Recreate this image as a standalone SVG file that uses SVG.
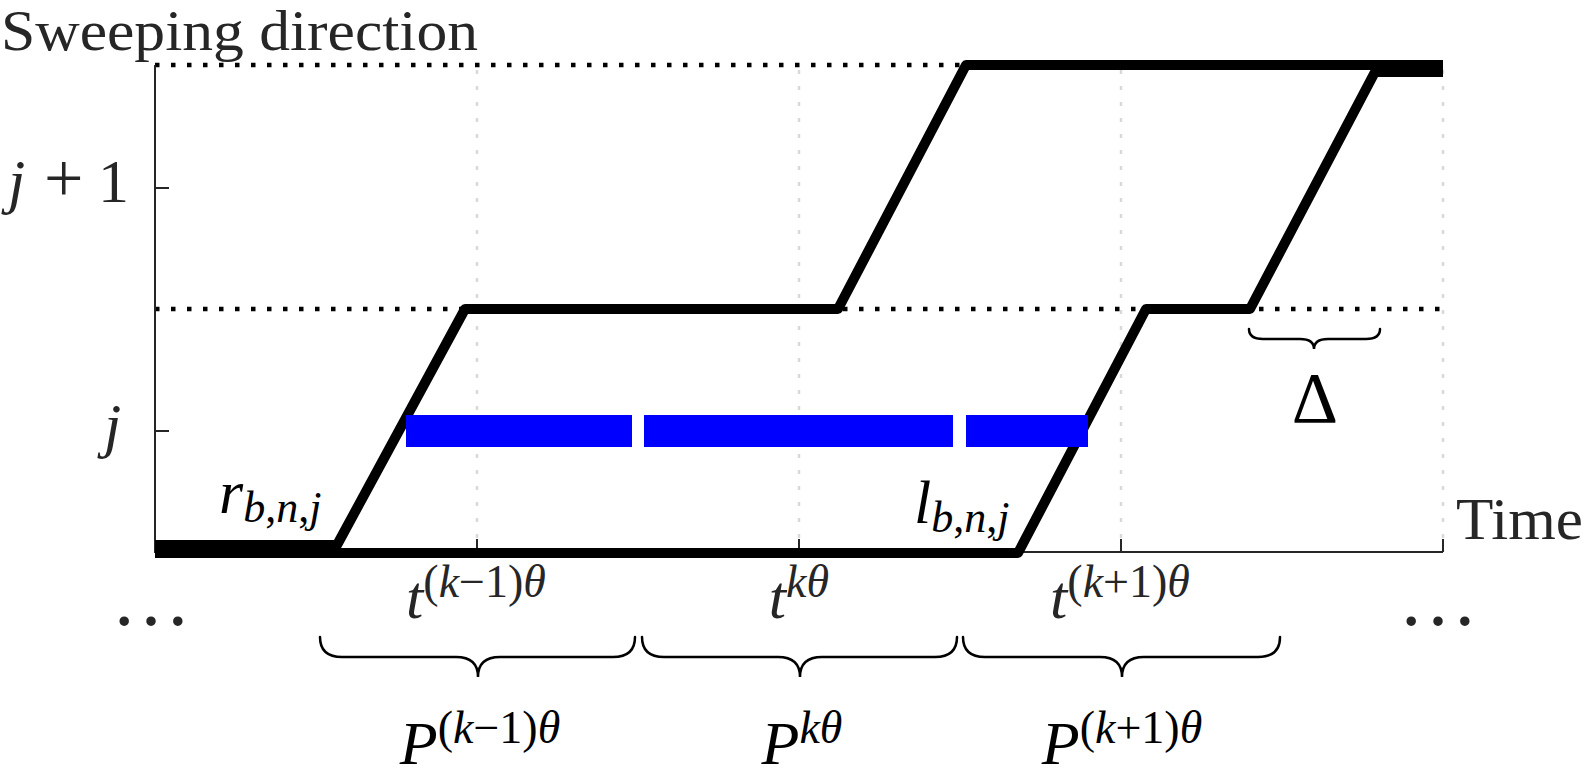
<svg xmlns="http://www.w3.org/2000/svg" width="1587" height="777" viewBox="0 0 1587 777">
<style>
text{font-family:"Liberation Serif","Times New Roman",serif;fill:#262626}
.it{font-style:italic}
.grid{stroke:#d9d9d9;stroke-width:2.5;stroke-dasharray:4 12;fill:none}
.dot{stroke:#000;stroke-width:4.5;stroke-dasharray:4.5 11.5;fill:none}
.axis{stroke:#262626;stroke-width:2;fill:none}
.curve{stroke:#000;stroke-width:10;fill:none;stroke-linejoin:round;stroke-linecap:butt}
.brace{stroke:#000;stroke-width:2.5;fill:none;stroke-linecap:round}
.bar{fill:#0000ff}
.math{fill:#000}
</style>
<rect width="1587" height="777" fill="#fff"/>
<g id="grid">
<line class="grid" x1="477" y1="70" x2="477" y2="552"/>
<line class="grid" x1="799" y1="70" x2="799" y2="552"/>
<line class="grid" x1="1121" y1="70" x2="1121" y2="552"/>
<line class="grid" x1="1443" y1="70" x2="1443" y2="552"/>
</g>
<g id="levels">
<line class="dot" x1="155" y1="65" x2="1443" y2="65"/>
<line class="dot" x1="155" y1="309" x2="1443" y2="309"/>
</g>
<g id="axes">
<path class="axis" d="M155 65 V552 H1443"/>
<path class="axis" d="M155 188 H169 M155 431 H169 M477 552 V539 M799 552 V539 M1121 552 V539 M1443 552 V539"/>
</g>
<g id="connectors">
<path id="curve-r" class="curve" d="M155 545 L337 545 L465 309 L838 309 L966 65 L1443 65"/>
<path id="curve-l" class="curve" d="M155 553 L1018 553 L1146 309 L1250 309 L1375 72 L1443 72"/>
</g>
<g id="blue-bar">
<rect class="bar" x="406" y="415" width="226" height="32"/>
<rect class="bar" x="644" y="415" width="309" height="32"/>
<rect class="bar" x="966" y="415" width="122" height="32"/>
</g>
<g id="braces">
<path class="brace" d="M320 637 Q320 657 342 657 L456 657 Q478 657 478 677 Q478 657 500 657 L613 657 Q635 657 635 637"/>
<path class="brace" d="M642 637 Q642 657 664 657 L778 657 Q800 657 800 677 Q800 657 822 657 L935 657 Q957 657 957 637"/>
<path class="brace" d="M963 637 Q963 657 985 657 L1100 657 Q1122 657 1122 677 Q1122 657 1144 657 L1258 657 Q1280 657 1280 637"/>
<path class="brace" d="M1249 329 Q1249 339 1263 339 L1300 339 Q1314 339 1314 349 Q1314 339 1328 339 L1366 339 Q1380 339 1380 329"/>
</g>
<g id="axis-labels">
<text x="1" y="50" font-size="56" textLength="477" lengthAdjust="spacingAndGlyphs">Sweeping direction</text>
<text x="1456" y="539" font-size="60" textLength="127" lengthAdjust="spacingAndGlyphs">Time</text>
<text y="202" font-size="62"><tspan class="it" x="8">j</tspan><tspan x="44" font-size="70">+</tspan><tspan x="98">1</tspan></text>
<text class="it" x="104" y="446" font-size="62">j</text>
</g>
<g id="curve-labels">
<text class="math" x="219" y="513" font-size="62"><tspan class="it">r</tspan><tspan font-size="44" dy="9"><tspan class="it">b</tspan>,<tspan class="it">n</tspan>,<tspan class="it">j</tspan></tspan></text>
<text class="math" x="914" y="523" font-size="62"><tspan class="it">l</tspan><tspan font-size="44" dy="9"><tspan class="it">b</tspan>,<tspan class="it">n</tspan>,<tspan class="it">j</tspan></tspan></text>
<text class="math" x="1315" y="422" font-size="72" text-anchor="middle">Δ</text>
</g>
<g id="time-labels">
<text x="476" y="618" font-size="62" text-anchor="middle"><tspan class="it">t</tspan><tspan font-size="46" dy="-21">(<tspan class="it">k</tspan>−1)<tspan class="it">θ</tspan></tspan></text>
<text x="799" y="618" font-size="62" text-anchor="middle"><tspan class="it">t</tspan><tspan font-size="46" dy="-21"><tspan class="it">k</tspan><tspan class="it">θ</tspan></tspan></text>
<text x="1120" y="618" font-size="62" text-anchor="middle"><tspan class="it">t</tspan><tspan font-size="46" dy="-21">(<tspan class="it">k</tspan>+1)<tspan class="it">θ</tspan></tspan></text>
<text x="151" y="625" font-size="80" text-anchor="middle">…</text>
<text x="1438" y="625" font-size="80" text-anchor="middle">…</text>
</g>
<g id="period-labels">
<text class="math" x="480" y="764" font-size="62" text-anchor="middle"><tspan class="it">P</tspan><tspan font-size="46" dy="-21">(<tspan class="it">k</tspan>−1)<tspan class="it">θ</tspan></tspan></text>
<text class="math" x="802" y="764" font-size="62" text-anchor="middle"><tspan class="it">P</tspan><tspan font-size="46" dy="-21"><tspan class="it">k</tspan><tspan class="it">θ</tspan></tspan></text>
<text class="math" x="1122" y="764" font-size="62" text-anchor="middle"><tspan class="it">P</tspan><tspan font-size="46" dy="-21">(<tspan class="it">k</tspan>+1)<tspan class="it">θ</tspan></tspan></text>
</g>
</svg>
